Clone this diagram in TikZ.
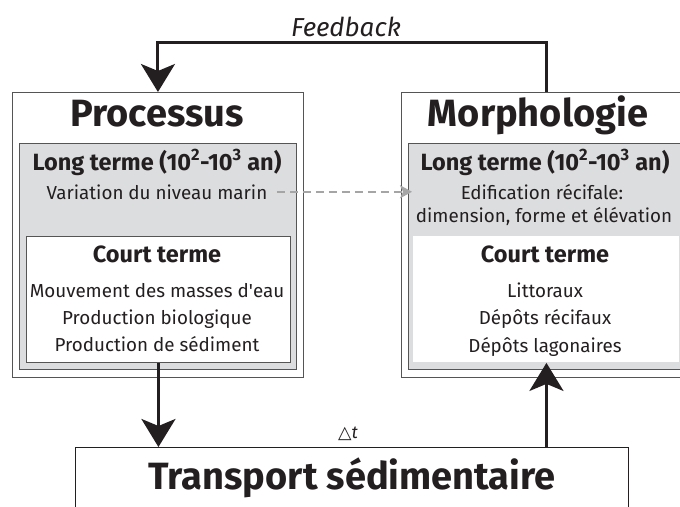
\documentclass[tikz,border=0pt]{standalone}
\usepackage{fontspec}
\setmainfont{Fira Sans}
\newfontfamily\symfont{DejaVu Sans}
\usetikzlibrary{positioning, arrows.meta}
\definecolor{boxgray}{RGB}{220,221,223}
\definecolor{rimgray}{RGB}{85,85,85}
\definecolor{dashgray}{RGB}{165,165,165}
\definecolor{ink}{RGB}{35,31,32}

\begin{document}
\begin{tikzpicture}[x=1pt, y=-1pt, >={Stealth[length=28pt,width=34pt,inset=7pt]},
    frame/.style={draw=rimgray, line width=0.9pt, fill=white, anchor=north west, inner sep=0pt},
    longbox/.style={draw=rimgray, line width=0.9pt, fill=boxgray, anchor=north west, inner sep=0pt},
    shortbox/.style={draw=rimgray, line width=0.9pt, fill=white, anchor=north west, inner sep=0pt},
    title/.style={anchor=base, text=ink, font=\fontsize{38}{44}\selectfont\bfseries},
    head/.style={anchor=base, text=ink, font=\fontsize{23.5}{26}\selectfont\bfseries},
    item/.style={anchor=base, text=ink, font=\fontsize{18.8}{22}\selectfont},
    flow/.style={->, line width=3pt, ink}]

    \useasboundingbox (0,0) rectangle (680,506);
    \clip (0,0) rectangle (680,506);

    % Processus
    \node[frame, minimum width=291, minimum height=285] (procOut) at (12,92) {};
    \node[longbox, minimum width=277, minimum height=226] (procLong) at (19,143) {};
    \node[shortbox, minimum width=264, minimum height=126] (procCourt) at (26,236) {};
    \node[title] (procTitle) at (157,126) {Processus};
    \node[head] (procLongHead) at (157,170) {Long terme (10\textsuperscript{2}-10\textsuperscript{3} an)};
    \node[item] (procVar) at (157,199) {Variation du niveau marin};
    \node[head] (procCourtHead) at (157,262) {Court terme};
    \node[item] (procMasses) at (157,297) {Mouvement des masses d\textquotesingle eau};
    \node[item] (procBio) at (157,324) {Production biologique};
    \node[item] (procSed) at (157,351) {Production de sédiment};

    % Morphologie
    \node[frame, minimum width=290, minimum height=285] (morphOut) at (401,92) {};
    \node[longbox, minimum width=276, minimum height=226] (morphLong) at (408,143) {};
    \node[shortbox, draw=none, minimum width=266, minimum height=126] (morphCourt) at (413,236) {};
    \node[title] (morphTitle) at (538,126) {Morphologie};
    \node[head] (morphLongHead) at (545,170) {Long terme (10\textsuperscript{2}-10\textsuperscript{3} an)};
    \node[item] (morphEdif) at (542,199) {Edification récifale:};
    \node[item] (morphDim) at (544,222) {dimension, forme et élévation};
    \node[head] (morphCourtHead) at (545,262) {Court terme};
    \node[item] (morphLitt) at (545,297) {Littoraux};
    \node[item] (morphRecif) at (545,324) {Dépôts récifaux};
    \node[item] (morphLagon) at (545,352) {Dépôts lagonaires};

    % Transport
    \node[frame, draw=ink, line width=1.4pt, minimum width=553, minimum height=90] (trans) at (75,447) {};
    \node[anchor=base, text=ink, font=\fontsize{38}{44}\selectfont\bfseries] (transTitle) at (352,489) {Transport sédimentaire};
    \node[anchor=base, text=ink, font=\fontsize{17.5}{20}\selectfont] (dt) at (348,438) {{\symfont △}\textit{t}};

    % liens
    \draw[flow] (morphOut.north) -- ++(0,-50) -| (procOut.north);
    \node[anchor=base, text=ink, font=\fontsize{26}{30}\selectfont\itshape] (fbLabel) at (346,36) {Feedback};
    \draw[flow] (procCourt.south) -- (procCourt.south |- trans.north);
    \draw[flow] (trans.north -| morphCourt.south) -- (morphCourt.south);
    \draw[dashgray, line width=2pt, dash pattern=on 8pt off 5pt,
          -{Stealth[length=12pt,width=13pt,inset=3pt]}]
        ([xshift=6pt]procVar.east) -- ([xshift=4pt]morphLong.west |- procVar.east);
\end{tikzpicture}
\end{document}
